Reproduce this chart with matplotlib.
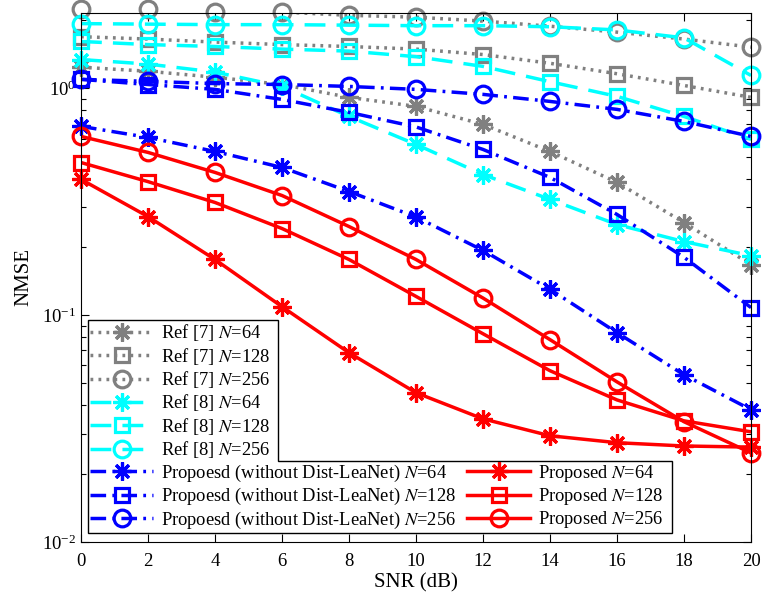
import matplotlib
matplotlib.use("Agg")
import matplotlib.pyplot as plt
from matplotlib.patches import Polygon
from matplotlib.lines import Line2D
from matplotlib.legend_handler import HandlerTuple

plt.rcParams['font.family'] = ['Liberation Serif', 'DejaVu Serif']
plt.rcParams['mathtext.fontset'] = 'stix'

snr = [0, 2, 4, 6, 8, 10, 12, 14, 16, 18, 20]

ref7_64 = [1.24, 1.19, 1.12, 1.04, 0.913, 0.833, 0.694, 0.527, 0.385, 0.256, 0.167]
ref7_128 = [1.69, 1.65, 1.60, 1.56, 1.53, 1.49, 1.41, 1.29, 1.16, 1.03, 0.913]
ref7_256 = [2.23, 2.23, 2.17, 2.17, 2.10, 2.06, 1.98, 1.88, 1.77, 1.65, 1.52]

ref8_64 = [1.34, 1.28, 1.18, 1.02, 0.752, 0.566, 0.417, 0.324, 0.251, 0.211, 0.183]
ref8_128 = [1.61, 1.56, 1.53, 1.49, 1.46, 1.38, 1.25, 1.07, 0.922, 0.752, 0.596]
ref8_256 = [1.93, 1.92, 1.91, 1.91, 1.90, 1.89, 1.89, 1.87, 1.81, 1.67, 1.14]

wo_64 = [0.680, 0.608, 0.527, 0.448, 0.351, 0.271, 0.193, 0.130, 0.0837, 0.0546, 0.0383]
wo_128 = [1.096, 1.04, 0.99, 0.894, 0.784, 0.676, 0.538, 0.405, 0.278, 0.180, 0.108]
wo_256 = [1.096, 1.074, 1.05, 1.04, 1.02, 0.99, 0.941, 0.876, 0.808, 0.715, 0.614]

prop_64 = [0.397, 0.272, 0.176, 0.109, 0.0683, 0.0455, 0.0349, 0.0294, 0.0274, 0.0265, 0.0262]
prop_128 = [0.471, 0.388, 0.314, 0.241, 0.176, 0.121, 0.0828, 0.0569, 0.0423, 0.0342, 0.0306]
prop_256 = [0.614, 0.522, 0.426, 0.337, 0.246, 0.176, 0.119, 0.078, 0.0508, 0.0339, 0.0247]

star = (8, 2, 0)
dotted = (0, (0.8, 1.5))
dashed = (0, (6, 3.2))
dashdot = (0, (4.5, 1.8, 0.8, 1.8))

# (values, color, linestyle, marker, markersize, label)
series = [
    (ref7_64, '#808080', dotted, star, 13, r'Ref [7] $N$=64'),
    (ref7_128, '#808080', dotted, 's', 10, r'Ref [7] $N$=128'),
    (ref7_256, '#808080', dotted, 'o', 12, r'Ref [7] $N$=256'),
    (ref8_64, '#00FFFF', dashed, star, 13, r'Ref [8] $N$=64'),
    (ref8_128, '#00FFFF', dashed, 's', 10, r'Ref [8] $N$=128'),
    (ref8_256, '#00FFFF', dashed, 'o', 12, r'Ref [8] $N$=256'),
    (wo_64, '#0000FF', dashdot, star, 13, r'Propoesd (without Dist-LeaNet) $N$=64'),
    (wo_128, '#0000FF', dashdot, 's', 10, r'Propoesd (without Dist-LeaNet) $N$=128'),
    (wo_256, '#0000FF', dashdot, 'o', 12, r'Propoesd (without Dist-LeaNet) $N$=256'),
    (prop_64, '#FF0000', '-', star, 13, r'Proposed $N$=64'),
    (prop_128, '#FF0000', '-', 's', 10, r'Proposed $N$=128'),
    (prop_256, '#FF0000', '-', 'o', 12, r'Proposed $N$=256'),
]

fig = plt.figure(figsize=(7.62, 6.01), dpi=100)
ax = fig.add_axes([0.1063, 0.0982, 0.8793, 0.8802])

handles = []
labels = []
for vals, col, ls, mk, ms, lab in series:
    ln, = ax.plot(snr, vals, color=col, linestyle=ls, linewidth=2.5)
    mks, = ax.plot(snr, vals, color=col, linestyle='none', marker=mk,
                   markersize=ms, markerfacecolor='none', markeredgewidth=2.3,
                   clip_on=False)
    handles.append((ln, mks))
    labels.append(lab)

ax.set_yscale('log')
ax.set_xlim(0, 20)
ax.set_ylim(0.01, 2.15)
ax.set_xticks(snr)
ax.tick_params(which='both', direction='in', top=True, right=True, labelsize=13.5)
ax.tick_params(which='major', length=6, width=0.8)
ax.tick_params(which='minor', length=3.5, width=0.8)
ax.tick_params(axis='x', pad=8)
ax.set_xlabel('SNR (dB)', fontsize=15, labelpad=2)
ax.set_ylabel('NMSE', fontsize=15, labelpad=6)
for sp in ax.spines.values():
    sp.set_linewidth(0.8)

# left column: 9 entries, right column: 6 hidden placeholders then 3 red entries
# (placeholders reuse the Ref labels so every row has the same height)
blank = Line2D([], [], linestyle='none')
leg_h = handles[:9] + [blank] * 6 + handles[9:]
leg_l = labels[:9] + labels[:6] + labels[9:]
leg = ax.legend(leg_h, leg_l, ncol=2, loc='lower left', bbox_to_anchor=(0.0104, 0.017),
                handler_map={tuple: HandlerTuple(ndivide=1, pad=0)},
                fontsize=13.3, frameon=False, handlelength=3.4, handletextpad=0.45,
                labelspacing=0.13, borderpad=0.12, borderaxespad=0, columnspacing=0.6)
texts = leg.get_texts()
for t in texts[9:15]:
    t.set_visible(False)
fig.canvas.draw()

inv = ax.transAxes.inverted()
box = leg.get_window_extent().transformed(inv)
t5 = texts[5].get_window_extent().transformed(inv)
t6 = texts[6].get_window_extent().transformed(inv)
ref_right = max(t.get_window_extent().transformed(inv).x1 for t in texts[:6])
xmid = ref_right + 7.0 / 670
ymid = (t5.y0 + t6.y1) / 2

# L-shaped legend outline, as in the original figure
outline = Polygon([(box.x0, box.y0), (box.x0, box.y1), (xmid, box.y1),
                   (xmid, ymid), (box.x1 + 6.0 / 670, ymid), (box.x1 + 6.0 / 670, box.y0)],
                  closed=True, transform=ax.transAxes, facecolor='white',
                  edgecolor='black', linewidth=1.0, zorder=4.5)
ax.add_patch(outline)

fig.savefig('out.png', dpi=100)
